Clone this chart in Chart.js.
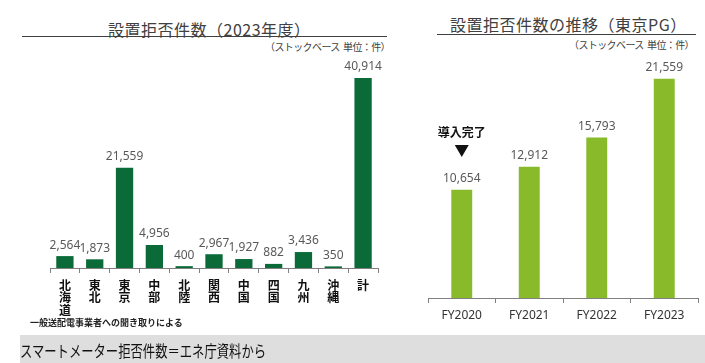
<!DOCTYPE html>
<html>
<head>
<meta charset="utf-8">
<script src="https://cdn.jsdelivr.net/npm/chart.js@4.4.1/dist/chart.umd.min.js"></script>
<style>
    body { margin: 0; width: 705px; height: 363px; background: #fff; position: relative; overflow: hidden;
        font-family: "Noto Sans CJK JP", "Noto Sans", sans-serif; }
    .abs { position: absolute; }
    canvas { position: absolute; }
    .title { font-size: 16px; color: #404040; white-space: nowrap; line-height: 16px; letter-spacing: 0.5px; }
    .rule { height: 0; border-top: 1px solid #404040; }
    .unit { font-size: 10px; color: #404040; white-space: nowrap; letter-spacing: -0.6px; }
    .note { font-size: 9px; font-weight: bold; color: #222; white-space: nowrap; }
    .band { background: #dedede; }
    .band span { font-size: 16px; color: #111; white-space: nowrap; transform: scaleX(0.77); transform-origin: left center; }
</style>
</head>
<body>

<div class="abs title" style="left:108px; top:21px;">設置拒否件数（2023年度）</div>
<div class="abs rule" style="left:22px; top:36px; width:365px;"></div>
<div class="abs unit" style="right:315px; top:39px;">（ストックベース&nbsp;&nbsp;単位：件）</div>

<div class="abs title" style="left:450px; top:16px;">設置拒否件数の推移（東京PG）</div>
<div class="abs rule" style="left:437px; top:34px; width:259px;"></div>
<div class="abs unit" style="right:11px; top:37px;">（ストックベース&nbsp;&nbsp;単位：件）</div>

<canvas id="areaChart" width="400" height="334" style="left:0; top:0;"></canvas>
<canvas id="tokyoChart" width="305" height="334" style="left:400px; top:0;"></canvas>

<div class="abs note" style="left:30px; top:316px;">一般送配電事業者への聞き取りによる</div>
<div class="abs band" style="left:20px; top:335px; width:685px; height:28px;">
    <span class="abs" style="left:0px; top:3px;">スマートメーター拒否件数＝エネ庁資料から</span>
</div>

<script>
const areas = ['北海道', '東北', '東京', '中部', '北陸', '関西', '中国', '四国', '九州', '沖縄', '計'];
const areaCounts = [2564, 1873, 21559, 4956, 400, 2967, 1927, 882, 3436, 350, 40914];

const years = ['FY2020', 'FY2021', 'FY2022', 'FY2023'];
const tokyoCounts = [10654, 12912, 15793, 21559];

// 棒の上に数値を書く
const valueLabels = {
    id: 'valueLabels',
    afterDatasetsDraw(chart) {
        const ctx = chart.ctx;
        const meta = chart.getDatasetMeta(0);
        ctx.save();
        ctx.font = '12px "Noto Sans", sans-serif';
        ctx.fillStyle = '#595959';
        ctx.textAlign = 'center';
        ctx.textBaseline = 'middle';
        meta.data.forEach((bar, i) => {
            const v = chart.data.datasets[0].data[i];
            ctx.fillText(v.toLocaleString('en-US'), bar.x, bar.y - 11);
        });
        ctx.restore();
    }
};

// 導入完了の矢印（FY2020）
const doneMark = {
    id: 'doneMark',
    afterDatasetsDraw(chart) {
        const ctx = chart.ctx;
        const bar = chart.getDatasetMeta(0).data[0];
        ctx.save();
        ctx.fillStyle = '#111';
        ctx.font = 'bold 12px "Noto Sans CJK JP", sans-serif';
        ctx.textAlign = 'center';
        ctx.textBaseline = 'middle';
        ctx.fillText('導入完了', bar.x, 132);
        ctx.beginPath();
        ctx.moveTo(bar.x - 7, 145);
        ctx.lineTo(bar.x + 7, 145);
        ctx.lineTo(bar.x, 157);
        ctx.closePath();
        ctx.fill();
        ctx.restore();
    }
};

function buildChart(ctx, labels, data, color, opts) {
    return new Chart(ctx, {
        type: 'bar',
        data: {
            labels: labels,
            datasets: [{
                data: data,
                backgroundColor: color,
                borderWidth: 0,
                categoryPercentage: 1,
                barPercentage: opts.barPercentage,
            }]
        },
        options: {
            responsive: false,
            animation: false,
            events: [],
            layout: { padding: opts.padding },
            scales: {
                x: {
                    afterFit: (scale) => { scale.height = opts.axisHeight; },
                    border: { color: '#808080', width: 1 },
                    grid: {
                        drawOnChartArea: false,
                        drawTicks: true,
                        tickLength: 5,
                        tickColor: '#808080',
                    },
                    ticks: {
                        color: opts.tickColor,
                        padding: opts.tickPadding,
                        font: opts.tickFont,
                        maxRotation: 0,
                        autoSkip: false,
                    }
                },
                y: {
                    display: false,
                    min: 0,
                    max: opts.yMax,
                }
            },
            plugins: {
                legend: { display: false },
                tooltip: { enabled: false },
            }
        },
        plugins: opts.plugins,
    });
}

buildChart(
    document.getElementById('areaChart'),
    areas.map(a => a.split('')),
    areaCounts,
    '#0a6b38',
    {
        barPercentage: 0.58,
        padding: { left: 50, right: 22, top: 59, bottom: 0 },
        axisHeight: 66,
        yMax: 45000,
        tickColor: '#111',
        tickPadding: 6,
        tickFont: { size: 12, weight: 'bold', family: '"Noto Sans CJK JP", sans-serif', lineHeight: 1.05 },
        plugins: [valueLabels],
    });

buildChart(
    document.getElementById('tokyoChart'),
    years,
    tokyoCounts,
    '#88ba2a',
    {
        barPercentage: 0.31,
        padding: { left: 28, right: 7, top: 54, bottom: 0 },
        axisHeight: 36,
        yMax: 24000,
        tickColor: '#333',
        tickPadding: 5,
        tickFont: { size: 12, family: '"Noto Sans", sans-serif' },
        plugins: [valueLabels, doneMark],
    });
</script>
</body>
</html>
